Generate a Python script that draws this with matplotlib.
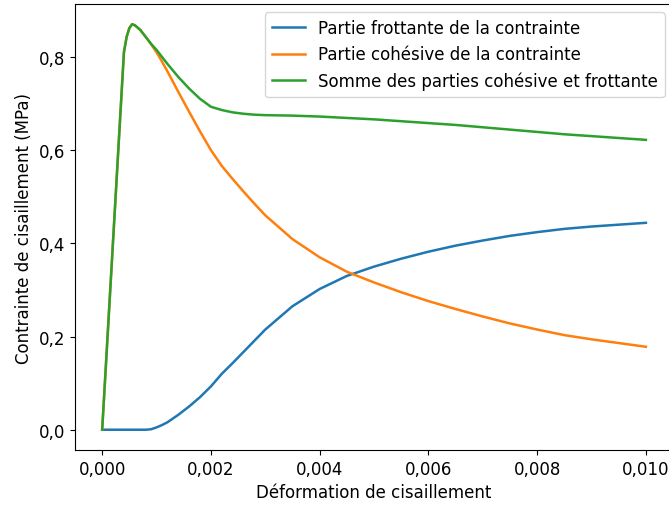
import matplotlib
matplotlib.use("Agg")
import matplotlib.pyplot as plt
from matplotlib.ticker import FuncFormatter
import numpy as np

# Déformation de cisaillement
deformation = [0.0, 0.0002, 0.0004, 0.00045, 0.0005, 0.00055, 0.0006, 0.0007,
               0.0008, 0.0009, 0.001, 0.0011, 0.0012, 0.0013, 0.0014, 0.0016,
               0.0018, 0.002, 0.0022, 0.0024, 0.0026, 0.0028, 0.003, 0.0035,
               0.004, 0.0045, 0.005, 0.0055, 0.006, 0.0065, 0.007, 0.0075,
               0.008, 0.0085, 0.009, 0.0095, 0.010]

# Partie frottante (MPa)
frottante = [0.0, 0.0, 0.0, 0.0, 0.0, 0.0, 0.0, 0.0,
             0.0, 0.001, 0.005, 0.010, 0.016, 0.024, 0.032, 0.050,
             0.070, 0.093, 0.120, 0.143, 0.167, 0.191, 0.215, 0.265,
             0.302, 0.330, 0.350, 0.367, 0.382, 0.395, 0.406, 0.416,
             0.424, 0.431, 0.436, 0.440, 0.444]

# Partie cohésive (MPa)
cohesive = [0.0, 0.405, 0.81, 0.843, 0.862, 0.870, 0.868, 0.858,
            0.843, 0.827, 0.81, 0.790, 0.769, 0.747, 0.725, 0.682,
            0.640, 0.600, 0.566, 0.538, 0.511, 0.485, 0.460, 0.409,
            0.370, 0.339, 0.316, 0.295, 0.276, 0.259, 0.243, 0.228,
            0.215, 0.203, 0.194, 0.186, 0.178]

somme = np.array(frottante) + np.array(cohesive)

plt.rcParams['font.size'] = 12
plt.rcParams['lines.linewidth'] = 1.8

fig = plt.figure(figsize=(6.69, 5.06), dpi=100)
ax = fig.add_axes([0.1121, 0.1087, 0.894, 0.8814])

ax.plot(deformation, frottante, label="Partie frottante de la contrainte")
ax.plot(deformation, cohesive, label="Partie cohésive de la contrainte")
ax.plot(deformation, somme, label="Somme des parties cohésive et frottante")

ax.set_xlabel("Déformation de cisaillement")
ax.set_ylabel("Contrainte de cisaillement (MPa)")
ax.set_xticks([0.0, 0.002, 0.004, 0.006, 0.008, 0.010])
ax.set_yticks([0.0, 0.2, 0.4, 0.6, 0.8])
ax.xaxis.set_major_formatter(FuncFormatter(lambda v, p: f"{v:.3f}".replace(".", ",")))
ax.yaxis.set_major_formatter(FuncFormatter(lambda v, p: f"{v:.1f}".replace(".", ",")))
ax.legend(loc="upper right")

fig.savefig("out.png", dpi=100)
